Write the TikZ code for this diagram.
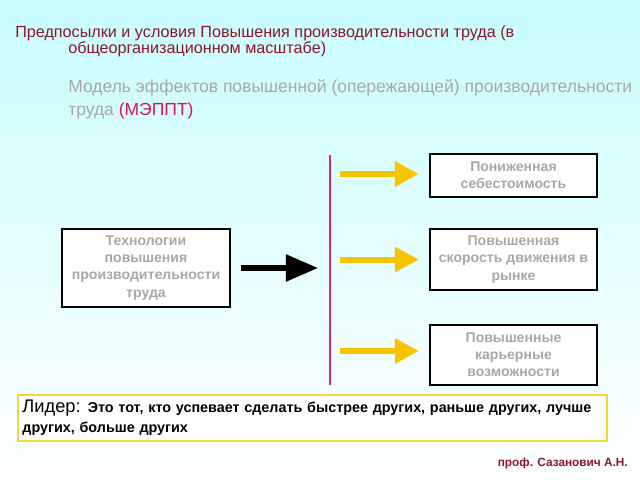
\documentclass[tikz,border=0pt]{standalone}
\usepackage{fontspec}
\setmainfont{Liberation Sans}
\usetikzlibrary{arrows.meta}
\definecolor{titlered}{RGB}{140,22,45}
\definecolor{fadegrey}{RGB}{168,168,168}
\definecolor{meppt}{RGB}{212,20,90}
\definecolor{barpink}{RGB}{225,35,105}
\definecolor{arrowyellow}{RGB}{246,196,0}
\definecolor{leaderframe}{RGB}{246,212,64}
\definecolor{skycyan}{RGB}{200,253,253}
\tikzset{x=0.025cm,y=-0.025cm,
	effbox/.style={rectangle,draw=black,line width=1.4pt,fill=white!20,align=center,inner sep=0pt,
		font=\fontsize{10}{12.2}\selectfont\bfseries,text=fadegrey},
	yellowarrow/.style={arrowyellow,line width=0.15cm,-{Triangle[length=0.6cm,width=0.6cm]},shorten >=0.25cm},
	blackarrow/.style={black,line width=0.13cm,-{Triangle[length=0.8cm,width=0.65cm]},shorten <=0.25cm}}
\tikzstyle{titletext}=[anchor=base west,inner sep=0pt,text=titlered,font=\fontsize{11.5}{13}\selectfont]
\tikzstyle{modeltext}=[anchor=base west,inner sep=0pt,text=fadegrey,font=\fontsize{12.45}{14}\selectfont]

\begin{document}
\begin{tikzpicture}
	\useasboundingbox (0,0) rectangle (640,480);
	\shade[top color=skycyan,bottom color=white] (0,0) rectangle (640,480);
	\node[titletext] (t1) at (15,37) {Предпосылки и условия Повышения производительности труда (в};
	\node[titletext] (t2) at (68,54) {общеорганизационном масштабе)};
	\node[modeltext] (m1) at (68,93) {Модель эффектов повышенной (опережающей) производительности};
	\node[modeltext] (m2) at (68,115) {труда \textcolor{meppt}{(МЭППТ)}};
	\node[effbox,minimum width=4.2cm,minimum height=1.95cm] (tech) at (146,268) {Технологии\\повышения\\производительности\\труда};
	\node[effbox,minimum width=4.18cm,minimum height=1.08cm] (eff1) at (513.5,175.5) {Пониженная\\себестоимость};
	\node[effbox,minimum width=4.18cm,minimum height=1.52cm] (eff2) at (513.5,259.5) {Повышенная\\скорость движения в\\рынке};
	\node[effbox,minimum width=4.18cm,minimum height=1.5cm] (eff3) at (513.5,355) {Повышенные\\карьерные\\возможности};
	\coordinate (bartop) at (330,155);
	\coordinate (barbot) at (330,385);
	\coordinate (hit) at (318,268);
	\coordinate (y1) at (340,174);
	\coordinate (y2) at (340,259.5);
	\coordinate (y3) at (340,351);
	\draw[barpink,line width=0.07cm] (bartop) -- (barbot);
	\draw[blackarrow] (tech) -- (hit);
	\draw[yellowarrow] (y1) -- (y1 -| eff1.west);
	\draw[yellowarrow] (y2) -- (y2 -| eff2.west);
	\draw[yellowarrow] (y3) -- (y3 -| eff3.west);
	\node[draw=leaderframe,line width=0.07cm,fill=white,minimum width=14.72cm,minimum height=1.15cm,
		text width=14.5cm,align=left,inner sep=0pt,font=\fontsize{10.2}{14}\selectfont\bfseries] (leader) at (312.5,418)
		{{\mdseries\fontsize{13}{14}\selectfont Лидер:} Это тот, кто успевает сделать быстрее других, раньше других, лучше\\других, больше других};
	\node[anchor=east,inner sep=0pt,text=titlered,font=\fontsize{8.4}{10}\selectfont\bfseries] (prof) at (628,463) {проф. Сазанович А.Н.};
\end{tikzpicture}
\end{document}
